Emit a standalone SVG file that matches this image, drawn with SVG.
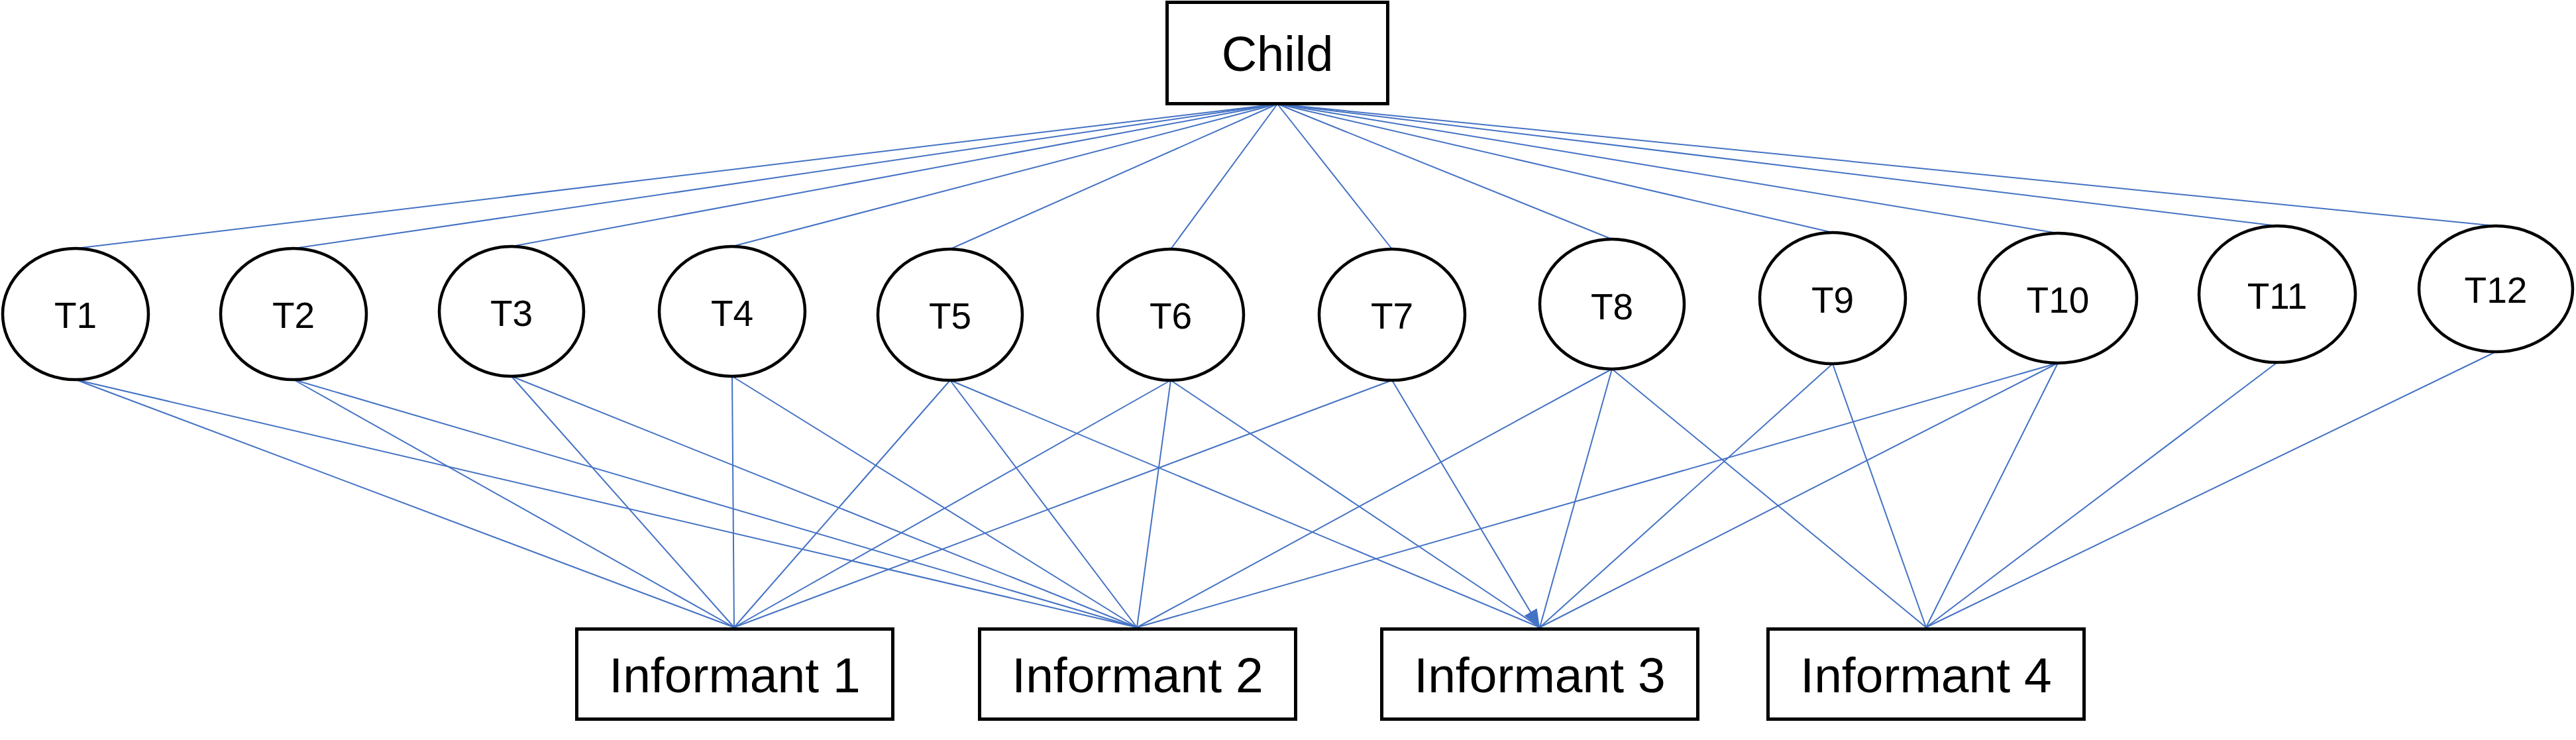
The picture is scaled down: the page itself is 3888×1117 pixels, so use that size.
<svg xmlns="http://www.w3.org/2000/svg" width="3888" height="1117" viewBox="0 0 3888 1117">
<style>
.box{fill:#fff;stroke:#000;stroke-width:5}
.ell{fill:#fff;stroke:#000;stroke-width:4.5}
.big{font-family:"Liberation Sans",Arial,sans-serif;font-size:74px;fill:#000;text-anchor:middle}
.inf{font-family:"Liberation Sans",Arial,sans-serif;font-size:75px;fill:#000;text-anchor:middle}
.t{font-family:"Liberation Sans",Arial,sans-serif;font-size:55px;fill:#000;text-anchor:middle}
.e{stroke:#4472C4;stroke-width:2;fill:none}
</style>
<defs>
<marker id="arr" markerUnits="userSpaceOnUse" markerWidth="28" markerHeight="22" refX="27" refY="11" orient="auto">
<path d="M0,0 L27,11 L0,22 z" fill="#4472C4"/>
</marker>
</defs>
<rect width="3888" height="1117" fill="#fff"/>
<g id="connectors">
<line class="e" x1="1928" y1="157" x2="114" y2="375"/>
<line class="e" x1="1928" y1="157" x2="443" y2="375"/>
<line class="e" x1="1928" y1="157" x2="772" y2="372"/>
<line class="e" x1="1928" y1="157" x2="1105" y2="372"/>
<line class="e" x1="1928" y1="157" x2="1434" y2="376"/>
<line class="e" x1="1928" y1="157" x2="1767" y2="376"/>
<line class="e" x1="1928" y1="157" x2="2101" y2="376"/>
<line class="e" x1="1928" y1="157" x2="2433" y2="361"/>
<line class="e" x1="1928" y1="157" x2="2766" y2="351"/>
<line class="e" x1="1928" y1="157" x2="3106" y2="352"/>
<line class="e" x1="1928" y1="157" x2="3437" y2="341"/>
<line class="e" x1="1928" y1="157" x2="3767" y2="341"/>
<line class="e" x1="114" y1="573" x2="1108" y2="947"/>
<line class="e" x1="114" y1="573" x2="1716" y2="947"/>
<line class="e" x1="443" y1="573" x2="1108" y2="947"/>
<line class="e" x1="443" y1="573" x2="1716" y2="947"/>
<line class="e" x1="772" y1="568" x2="1108" y2="947"/>
<line class="e" x1="772" y1="568" x2="1716" y2="947"/>
<line class="e" x1="1105" y1="568" x2="1108" y2="947"/>
<line class="e" x1="1105" y1="568" x2="1716" y2="947"/>
<line class="e" x1="1434" y1="574" x2="1108" y2="947"/>
<line class="e" x1="1434" y1="574" x2="1716" y2="947"/>
<line class="e" x1="1434" y1="574" x2="2324" y2="947"/>
<line class="e" x1="1767" y1="574" x2="1108" y2="947"/>
<line class="e" x1="1767" y1="574" x2="1716" y2="947"/>
<line class="e" x1="1767" y1="574" x2="2324" y2="947"/>
<line class="e" x1="2101" y1="574" x2="1108" y2="947"/>
<line class="e" x1="2101" y1="574" x2="2324" y2="947" marker-end="url(#arr)"/>
<line class="e" x1="2433" y1="557" x2="1716" y2="947"/>
<line class="e" x1="2433" y1="557" x2="2324" y2="947"/>
<line class="e" x1="2433" y1="557" x2="2907" y2="947"/>
<line class="e" x1="2766" y1="549" x2="2324" y2="947"/>
<line class="e" x1="2766" y1="549" x2="2907" y2="947"/>
<line class="e" x1="3106" y1="548" x2="1716" y2="947"/>
<line class="e" x1="3106" y1="548" x2="2324" y2="947"/>
<line class="e" x1="3106" y1="548" x2="2907" y2="947"/>
<line class="e" x1="3437" y1="547" x2="2907" y2="947"/>
<line class="e" x1="3767" y1="531" x2="2907" y2="947"/>
</g>
<g id="child"><rect class="box" x="1761.5" y="3.5" width="333" height="153"/><text class="big" x="1928" y="107">Child</text></g>
<g id="T1"><ellipse class="ell" cx="114" cy="474" rx="110" ry="99"/><text class="t" x="114" y="495">T1</text></g>
<g id="T2"><ellipse class="ell" cx="443" cy="474" rx="110" ry="99"/><text class="t" x="443" y="495">T2</text></g>
<g id="T3"><ellipse class="ell" cx="772" cy="470" rx="109" ry="98"/><text class="t" x="772" y="492">T3</text></g>
<g id="T4"><ellipse class="ell" cx="1105" cy="470" rx="110" ry="98"/><text class="t" x="1105" y="492">T4</text></g>
<g id="T5"><ellipse class="ell" cx="1434" cy="475" rx="109" ry="99"/><text class="t" x="1434" y="496">T5</text></g>
<g id="T6"><ellipse class="ell" cx="1767" cy="475" rx="110" ry="99"/><text class="t" x="1767" y="496">T6</text></g>
<g id="T7"><ellipse class="ell" cx="2101" cy="475" rx="110" ry="99"/><text class="t" x="2101" y="496">T7</text></g>
<g id="T8"><ellipse class="ell" cx="2433" cy="459" rx="109" ry="98"/><text class="t" x="2433" y="482">T8</text></g>
<g id="T9"><ellipse class="ell" cx="2766" cy="450" rx="110" ry="99"/><text class="t" x="2766" y="472">T9</text></g>
<g id="T10"><ellipse class="ell" cx="3106" cy="450" rx="119" ry="98"/><text class="t" x="3106" y="472">T10</text></g>
<g id="T11"><ellipse class="ell" cx="3437" cy="444" rx="118" ry="103"/><text class="t" x="3437" y="466">T11</text></g>
<g id="T12"><ellipse class="ell" cx="3767" cy="436" rx="116" ry="95"/><text class="t" x="3767" y="457">T12</text></g>
<g id="informant1"><rect class="box" x="870.5" y="949.5" width="477" height="136"/><text class="inf" x="1109" y="1045">Informant 1</text></g>
<g id="informant2"><rect class="box" x="1478.5" y="949.5" width="477" height="136"/><text class="inf" x="1717" y="1045">Informant 2</text></g>
<g id="informant3"><rect class="box" x="2085.5" y="949.5" width="477" height="136"/><text class="inf" x="2324" y="1045">Informant 3</text></g>
<g id="informant4"><rect class="box" x="2668.5" y="949.5" width="477" height="136"/><text class="inf" x="2907" y="1045">Informant 4</text></g>
</svg>
